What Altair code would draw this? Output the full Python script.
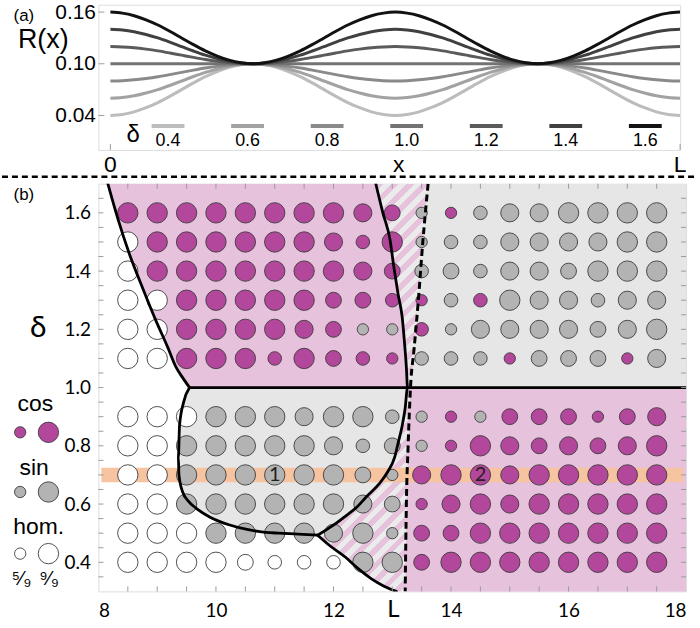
import altair as alt
import numpy as np
import pandas as pd

# ---------------------------------------------------------------
# Panel (a): channel radius profiles R(x) for several depths delta
# ---------------------------------------------------------------
delta_levels = [0.4, 0.6, 0.8, 1.0, 1.2, 1.4, 1.6]
delta_labels = ["0.4", "0.6", "0.8", "1.0", "1.2", "1.4", "1.6"]
line_grays = ["#bcbcbc", "#a2a2a2", "#8a8a8a", "#737373", "#5b5b5b", "#404040", "#121212"]
r_at_zero = [0.04, 0.06, 0.08, 0.10, 0.12, 0.14, 0.16]
r_mid = 0.10

# sample positions along the channel (fraction of L) and the normalised bump shape
x_over_L = [k / 48 for k in range(49)]
bump = [1.00, 0.98, 0.93, 0.85, 0.75, 0.63, 0.50, 0.37, 0.25, 0.15, 0.07, 0.02,
        0.00, 0.02, 0.07, 0.15, 0.25, 0.37, 0.50, 0.63, 0.75, 0.85, 0.93, 0.98,
        1.00, 0.98, 0.93, 0.85, 0.75, 0.63, 0.50, 0.37, 0.25, 0.15, 0.07, 0.02,
        0.00, 0.02, 0.07, 0.15, 0.25, 0.37, 0.50, 0.63, 0.75, 0.85, 0.93, 0.98,
        1.00]

# ---------------------------------------------------------------
# Panel (b): phase diagram on the (L, delta) plane
# ---------------------------------------------------------------
col_L = [8.5 + 0.5 * i for i in range(19)]
row_delta = [1.6, 1.5, 1.4, 1.3, 1.2, 1.1, 0.9, 0.8, 0.7, 0.6, 0.5, 0.4]
# c = cos, s = sin, h = homogeneous ; one character per column
kind_rows = [
    "ccccccccccscsssssss",
    "hcccccccccsssssssss",
    "hcccccccccsssssssss",
    "hhcccccccccscssssss",
    "hhccccccsscssssssss",
    "hhccccccccssscsssc" + "s",
    "hhhsssssssscsccccccc"[:19],
    "hhsssssssssccccccccc"[:19],
    "hhsssssssscccccccccc"[:19],
    "hhsssssssscccccccccc"[:19],
    "hhhssssssscccccccccc"[:19],
    "hhhhhhhhssccccccccccc"[:19],
]
# number of runs (out of 9) that ended in that state
n_rows = [
    [9, 9, 9, 9, 9, 9, 9, 9, 8, 7, 5, 5, 6, 8, 8, 9, 9, 9, 9],
    [9, 9, 9, 9, 9, 9, 9, 8, 6, 9, 5, 6, 6, 8, 8, 8, 8, 9, 9],
    [9, 9, 9, 9, 9, 9, 9, 9, 8, 7, 6, 7, 6, 8, 8, 7, 9, 9, 9],
    [9, 9, 9, 9, 9, 9, 9, 7, 7, 6, 5, 6, 6, 9, 8, 8, 6, 8, 8],
    [9, 9, 9, 9, 9, 9, 8, 7, 5, 5, 6, 5, 8, 8, 8, 8, 7, 8, 9],
    [9, 9, 9, 9, 9, 6, 9, 7, 6, 5, 6, 6, 6, 5, 7, 7, 7, 5, 8],
    [9, 9, 9, 9, 9, 9, 8, 9, 9, 6, 5, 5, 5, 7, 7, 7, 5, 7, 8],
    [9, 9, 9, 9, 9, 9, 9, 8, 6, 7, 5, 5, 9, 8, 7, 8, 7, 8, 9],
    [9, 9, 9, 9, 9, 9, 9, 9, 7, 5, 8, 9, 9, 8, 9, 9, 9, 9, 9],
    [9, 9, 9, 9, 9, 9, 9, 9, 8, 7, 5, 8, 9, 8, 9, 9, 9, 9, 9],
    [9, 9, 9, 9, 9, 9, 9, 8, 9, 5, 7, 7, 9, 9, 9, 9, 9, 9, 9],
    [9, 9, 9, 9, 7, 6, 6, 6, 9, 9, 7, 9, 9, 9, 9, 9, 9, 9, 9],
]
kind_names = {"c": "cos", "s": "sin", "h": "hom"}

# boundary curves (L, delta)
curve_a_x = [8.16, 8.33, 8.53, 8.75, 8.98, 9.18, 9.32, 9.43, 9.55]
curve_a_y = [1.70, 1.58, 1.457, 1.343, 1.229, 1.138, 1.07, 1.035, 1.0]
curve_b_up_x = [12.72, 12.84, 12.96, 13.03, 13.10, 13.17, 13.21, 13.24, 13.26]
curve_b_up_y = [1.70, 1.60, 1.51, 1.41, 1.32, 1.24, 1.15, 1.07, 1.0]
curve_b_low_x = [13.26, 13.22, 13.17, 13.10, 13.04, 12.92, 12.78, 12.56, 12.40, 12.20, 11.98, 11.73]
curve_b_low_y = [1.0, 0.93, 0.87, 0.81, 0.76, 0.71, 0.67, 0.625, 0.59, 0.558, 0.525, 0.493]
gray_edge_x = [9.55, 9.45, 9.38, 9.36, 9.37, 9.43, 9.53, 9.66, 9.90, 10.22, 10.55, 10.84, 11.07, 11.40, 11.73]
gray_edge_y = [1.0, 0.95, 0.87, 0.76, 0.70, 0.643, 0.61, 0.586, 0.555, 0.529, 0.512, 0.503, 0.500, 0.497, 0.493]
curve_c_x = [11.73, 11.95, 12.20, 12.42, 12.64, 12.86, 13.07]
curve_c_y = [0.493, 0.455, 0.418, 0.378, 0.344, 0.318, 0.30]
dash_up_x = [13.61, 13.52, 13.44, 13.37, 13.31]
dash_up_y = [1.70, 1.50, 1.29, 1.13, 1.0]
dash_low_x = [13.31, 13.27, 13.24, 13.22]
dash_low_y = [1.0, 0.80, 0.60, 0.30]

band_delta = 0.7
band_half = 0.025
band_L = [8.05, 17.95]
marker_labels = ["1", "2"]
marker_L = [11.0, 14.5]

# ---------------------------------------------------------------
# layout and style
# ---------------------------------------------------------------
W_A, H_A = 585, 146
W_B, H_B = 591, 410
XA_DOMAIN = [-0.021, 1.0]
YA_DOMAIN = [0.0, 0.1685]
XB_DOMAIN = [8, 18]
YB_DOMAIN = [0.3, 1.7]

MAGENTA = "#b3479b"
SIN_GRAY = "#b3b3b3"
PINK_BG = "#e6c2dd"
GRAY_BG = "#e6e6e6"
STRIPE_GRAY = "#ebebeb"
BAND = "#f7c4a1"
FRAME = "#9a9a9a"
EDGE = "#3c3c3c"
FONT_A = "Liberation Sans"
FONT_B = "Lato"

# ================= panel (a) =================
prof_rows = []
for d, r0 in zip(delta_levels, r_at_zero):
    for t, b in zip(x_over_L, bump):
        prof_rows.append({"delta": d, "t": t, "R": r_mid + (r0 - r_mid) * b})
prof_df = pd.DataFrame(prof_rows)

xa = alt.X("t:Q", scale=alt.Scale(domain=XA_DOMAIN, nice=False, zero=False), axis=None)
ya = alt.Y(
    "R:Q",
    scale=alt.Scale(domain=YA_DOMAIN, nice=False, zero=False),
    axis=alt.Axis(values=[0.04, 0.10, 0.16], format=".2f", grid=False, domain=False,
                  ticks=False, tickSize=0, labelPadding=3, labelFont=FONT_A,
                  labelFontSize=21, labelColor="black",
                  title="R(x)", titleAngle=0, titleFont=FONT_A, titleFontSize=27,
                  titleFontWeight="normal", titleColor="black", titleAlign="center",
                  titleBaseline="middle", titleX=-56, titleY=35),
)
gray_scale = alt.Scale(domain=delta_levels, range=line_grays)

curves = alt.Chart(prof_df).mark_line(strokeWidth=3, interpolate="monotone", clip=True).encode(
    x=xa, y=ya,
    color=alt.Color("delta:O", scale=gray_scale, legend=None),
    detail="delta:O",
)

ya_ticks = alt.Chart(pd.DataFrame({"R": [0.04, 0.10, 0.16]})).mark_rule(
    color=FRAME, strokeWidth=1).encode(y=ya, x=alt.value(0), x2=alt.value(6))
xa_ticks = alt.Chart(pd.DataFrame({"t": [0.0, 1.0]})).mark_rule(
    color=FRAME, strokeWidth=1).encode(x=xa, y=alt.value(H_A), y2=alt.value(H_A - 6))

xa_text = alt.Chart(pd.DataFrame({"t": [0.0, 0.506, 1.0], "s": ["0", "x", "L"]})).mark_text(
    font=FONT_A, fontSize=23, baseline="alphabetic", color="black").encode(
    x=xa, y=alt.value(168), text="s:N")

legend_a_px = [70, 150, 230, 310, 390, 470, 550]
leg_a = pd.DataFrame({"delta": delta_levels, "label": delta_labels, "cx": legend_a_px})
leg_a["x0"] = leg_a["cx"] - 16.5
leg_a["x1"] = leg_a["cx"] + 16.5
leg_seg = alt.Chart(leg_a).mark_rule(strokeWidth=4).encode(
    x=alt.X("x0:Q", scale=None, axis=None), x2="x1:Q", y=alt.value(122),
    color=alt.Color("delta:O", scale=gray_scale, legend=None))
leg_txt = alt.Chart(leg_a).mark_text(font=FONT_A, fontSize=18, baseline="middle",
                                     color="black").encode(
    x=alt.X("cx:Q", scale=None, axis=None), y=alt.value(137), text="label:N")
leg_delta = alt.Chart(pd.DataFrame({"s": ["δ"]})).mark_text(
    font=FONT_A, fontSize=24, baseline="middle", color="black").encode(
    x=alt.value(35), y=alt.value(131), text="s:N")
tag_a = alt.Chart(pd.DataFrame({"s": ["(a)"]})).mark_text(
    font=FONT_A, fontSize=17, baseline="middle", color="black").encode(
    x=alt.value(-75), y=alt.value(11), text="s:N")

panel_a = alt.layer(curves, ya_ticks, xa_ticks, xa_text, leg_seg, leg_txt, leg_delta, tag_a).properties(
    width=W_A, height=H_A)

# ================= panel (b) =================
xb = alt.X(
    "x:Q", scale=alt.Scale(domain=XB_DOMAIN, nice=False, zero=False),
    axis=alt.Axis(values=[8, 10, 12, 14, 16, 18], format="d", grid=False, domain=False,
                  ticks=False, tickSize=0, labelPadding=25, labelBaseline="alphabetic",
                  labelFont=FONT_B, labelFontSize=19, labelColor="black", title=None),
)
yb = alt.Y(
    "y:Q", scale=alt.Scale(domain=YB_DOMAIN, nice=False, zero=False),
    axis=alt.Axis(values=[0.4, 0.6, 0.8, 1.0, 1.2, 1.4, 1.6], format=".1f", grid=False,
                  domain=False, ticks=False, tickSize=0, labelPadding=8,
                  labelFont=FONT_B, labelFontSize=19, labelColor="black",
                  title="δ", titleAngle=0, titleFont=FONT_B, titleFontSize=30,
                  titleFontWeight="normal", titleColor="black", titleAlign="center",
                  titleBaseline="middle", titleX=-61, titleY=145),
)


def pts(xs, ys):
    return list(zip(xs, ys))


curve_a = pts(curve_a_x, curve_a_y)
curve_b_up = pts(curve_b_up_x, curve_b_up_y)
curve_b_low = pts(curve_b_low_x, curve_b_low_y)
gray_edge = pts(gray_edge_x, gray_edge_y)
curve_c = pts(curve_c_x, curve_c_y)
dash_up = pts(dash_up_x, dash_up_y)
dash_low = pts(dash_low_x, dash_low_y)

regions = {
    "pink_ul": curve_a + curve_b_up[::-1],
    "hatch_u": curve_b_up + dash_up[::-1],
    "gray_ur": dash_up + [(18, 1.0), (18, 1.7)],
    "pink_lr": dash_low + [(18, 0.3), (18, 1.0)],
    "gray_l": gray_edge + curve_b_low[::-1],
    "hatch_l": curve_b_low + curve_c[1:] + dash_low[::-1],
}


def poly_df(vertices):
    return pd.DataFrame({"x": [v[0] for v in vertices], "y": [v[1] for v in vertices],
                         "i": list(range(len(vertices)))})


def stripes(vertices, period=11.0):
    # diagonal pink/grey stripes; the gradient lives in the shape's bounding box
    xs = [v[0] for v in vertices]
    ys = [v[1] for v in vertices]
    w = (max(xs) - min(xs)) * W_B / (XB_DOMAIN[1] - XB_DOMAIN[0])
    h = (max(ys) - min(ys)) * H_B / (YB_DOMAIN[1] - YB_DOMAIN[0])
    s = (w + h) * w * h / (w * w + h * h)
    step = period * np.sqrt(2) / (w + h)
    stops = []
    o = 0.0
    while o < 1.0:
        mid = min(o + step / 2, 1.0)
        end = min(o + step, 1.0)
        stops += [alt.GradientStop(color=PINK_BG, offset=o),
                  alt.GradientStop(color=PINK_BG, offset=mid),
                  alt.GradientStop(color=STRIPE_GRAY, offset=mid),
                  alt.GradientStop(color=STRIPE_GRAY, offset=end)]
        o = end
    return alt.LinearGradient(gradient="linear", stops=stops, x1=0, y1=0,
                              x2=float(s / h), y2=float(s / w))


def region(name, fill, solid=True):
    mark = dict(fill=fill, clip=True, interpolate="linear")
    if solid:
        mark.update(stroke=fill, strokeWidth=1)
    else:
        mark.update(strokeWidth=0)
    return alt.Chart(poly_df(regions[name])).mark_line(**mark).encode(
        x=xb, y=yb, order="i:Q")


bg_layers = [
    region("pink_ul", PINK_BG),
    region("gray_ur", GRAY_BG),
    region("pink_lr", PINK_BG),
    region("gray_l", GRAY_BG),
    region("hatch_u", stripes(regions["hatch_u"]), solid=False),
    region("hatch_l", stripes(regions["hatch_l"]), solid=False),
]

band = alt.Chart(pd.DataFrame({"x": [band_L[0]], "x2": [band_L[1]],
                               "y": [band_delta - band_half], "y2": [band_delta + band_half]})
                 ).mark_rect(color=BAND).encode(x=xb, x2="x2:Q", y=yb, y2="y2:Q")

dot_rows = []
for d, kinds, ns in zip(row_delta, kind_rows, n_rows):
    for L, k, n in zip(col_L, kinds, ns):
        dot_rows.append({"x": L, "y": d, "kind": kind_names[k], "n": n})
dots = pd.DataFrame(dot_rows)

size_scale = alt.Scale(type="pow", exponent=2, domain=[0, 9], range=[0, 420])
fill_scale = alt.Scale(domain=["cos", "sin", "hom"], range=[MAGENTA, SIN_GRAY, "#ffffff"])

circles = alt.Chart(dots).mark_circle(opacity=1, stroke=EDGE, strokeWidth=0.9).encode(
    x=xb, y=yb,
    size=alt.Size("n:Q", scale=size_scale, legend=None),
    fill=alt.Fill("kind:N", scale=fill_scale, legend=None),
)

line_rows = []
for seg, vs in [("A", curve_a), ("B", curve_b_up + curve_b_low[1:]), ("G", gray_edge),
                ("C", curve_c), ("H", [(curve_a_x[-1], 1.0), (18, 1.0)])]:
    for i, (x, y) in enumerate(vs):
        line_rows.append({"seg": seg, "i": i, "x": x, "y": y})
boundaries = alt.Chart(pd.DataFrame(line_rows)).mark_line(
    color="black", strokeWidth=2.8, strokeJoin="round", strokeCap="round",
    interpolate="monotone", clip=True).encode(x=xb, y=yb, detail="seg:N", order="i:Q")

dashed = alt.Chart(poly_df(dash_up + dash_low[1:])).mark_line(
    color="black", strokeWidth=3, strokeDash=[7, 4], interpolate="monotone", clip=True
).encode(x=xb, y=yb, order="i:Q")

markers = alt.Chart(pd.DataFrame({"x": marker_L, "y": [band_delta] * 2, "s": marker_labels})
                    ).mark_text(font=FONT_B, fontSize=20, color="#222222", baseline="middle"
                                ).encode(x=xb, y=yb, text="s:N")

tick_x = pd.DataFrame({"x": np.arange(8.5, 18.0, 0.5)})
tick_y = pd.DataFrame({"y": np.round(np.arange(0.35, 1.70, 0.05), 2)})
ticks = [
    alt.Chart(tick_x).mark_rule(color=FRAME, strokeWidth=1).encode(
        x=xb, y=alt.value(H_B), y2=alt.value(H_B - 5)),
    alt.Chart(tick_x).mark_rule(color=FRAME, strokeWidth=1).encode(
        x=xb, y=alt.value(0), y2=alt.value(5)),
    alt.Chart(tick_y).mark_rule(color=FRAME, strokeWidth=1).encode(
        y=yb, x=alt.value(0), x2=alt.value(5)),
    alt.Chart(tick_y).mark_rule(color=FRAME, strokeWidth=1).encode(
        y=yb, x=alt.value(W_B), x2=alt.value(W_B - 5)),
]

L_label = alt.Chart(pd.DataFrame({"x": [13.02], "s": ["L"]})).mark_text(
    font=FONT_B, fontSize=24, baseline="alphabetic", color="black").encode(
    x=xb, y=alt.value(436), text="s:N")

# key for the circle states, placed to the left of the frame
key_dots = pd.DataFrame({
    "px": [-78.7, -50.3, -78.7, -50.3, -78.7, -50.3],
    "py": [250, 250, 310, 310, 372, 372],
    "kind": ["cos", "cos", "sin", "sin", "hom", "hom"],
    "n": [5, 9, 5, 9, 5, 9],
})
key_circles = alt.Chart(key_dots).mark_circle(opacity=1, stroke=EDGE, strokeWidth=0.9).encode(
    x=alt.X("px:Q", scale=None, axis=None), y=alt.Y("py:Q", scale=None, axis=None),
    size=alt.Size("n:Q", scale=size_scale, legend=None),
    fill=alt.Fill("kind:N", scale=fill_scale, legend=None),
)
key_text = pd.DataFrame({
    "px": [-63.5, -64.7, -60.0, -77.3, -49.7],
    "py": [222, 286, 345, 398, 398],
    "s": ["cos", "sin", "hom.", "⁵⁄₉", "⁹⁄₉"],
    "fs": [23, 23, 23, 20, 20],
})
key_labels = alt.Chart(key_text).mark_text(font=FONT_A, baseline="middle", color="black").encode(
    x=alt.X("px:Q", scale=None, axis=None), y=alt.Y("py:Q", scale=None, axis=None),
    text="s:N", size=alt.Size("fs:Q", scale=None, legend=None))

tag_b = alt.Chart(pd.DataFrame({"s": ["(b)"]})).mark_text(
    font=FONT_A, fontSize=17, baseline="middle", color="black").encode(
    x=alt.value(-75), y=alt.value(11), text="s:N")

separator = alt.Chart(pd.DataFrame({"s": [0]})).mark_rule(
    color="black", strokeWidth=2.5, strokeDash=[6, 4]).encode(
    x=alt.value(-97), x2=alt.value(603), y=alt.value(-7))

panel_b = alt.layer(*bg_layers, band, circles, boundaries, dashed, markers, *ticks,
                    L_label, key_circles, key_labels, tag_b, separator).properties(
    width=W_B, height=H_B)

chart = alt.vconcat(panel_a, panel_b, spacing=34, bounds="flush").properties(
    padding={"left": 0, "top": -2, "right": 0, "bottom": 0}
).configure_view(stroke=FRAME, strokeWidth=1).configure(background="white")

chart.save("out.html", embed_options={"renderer": "svg", "actions": False})
